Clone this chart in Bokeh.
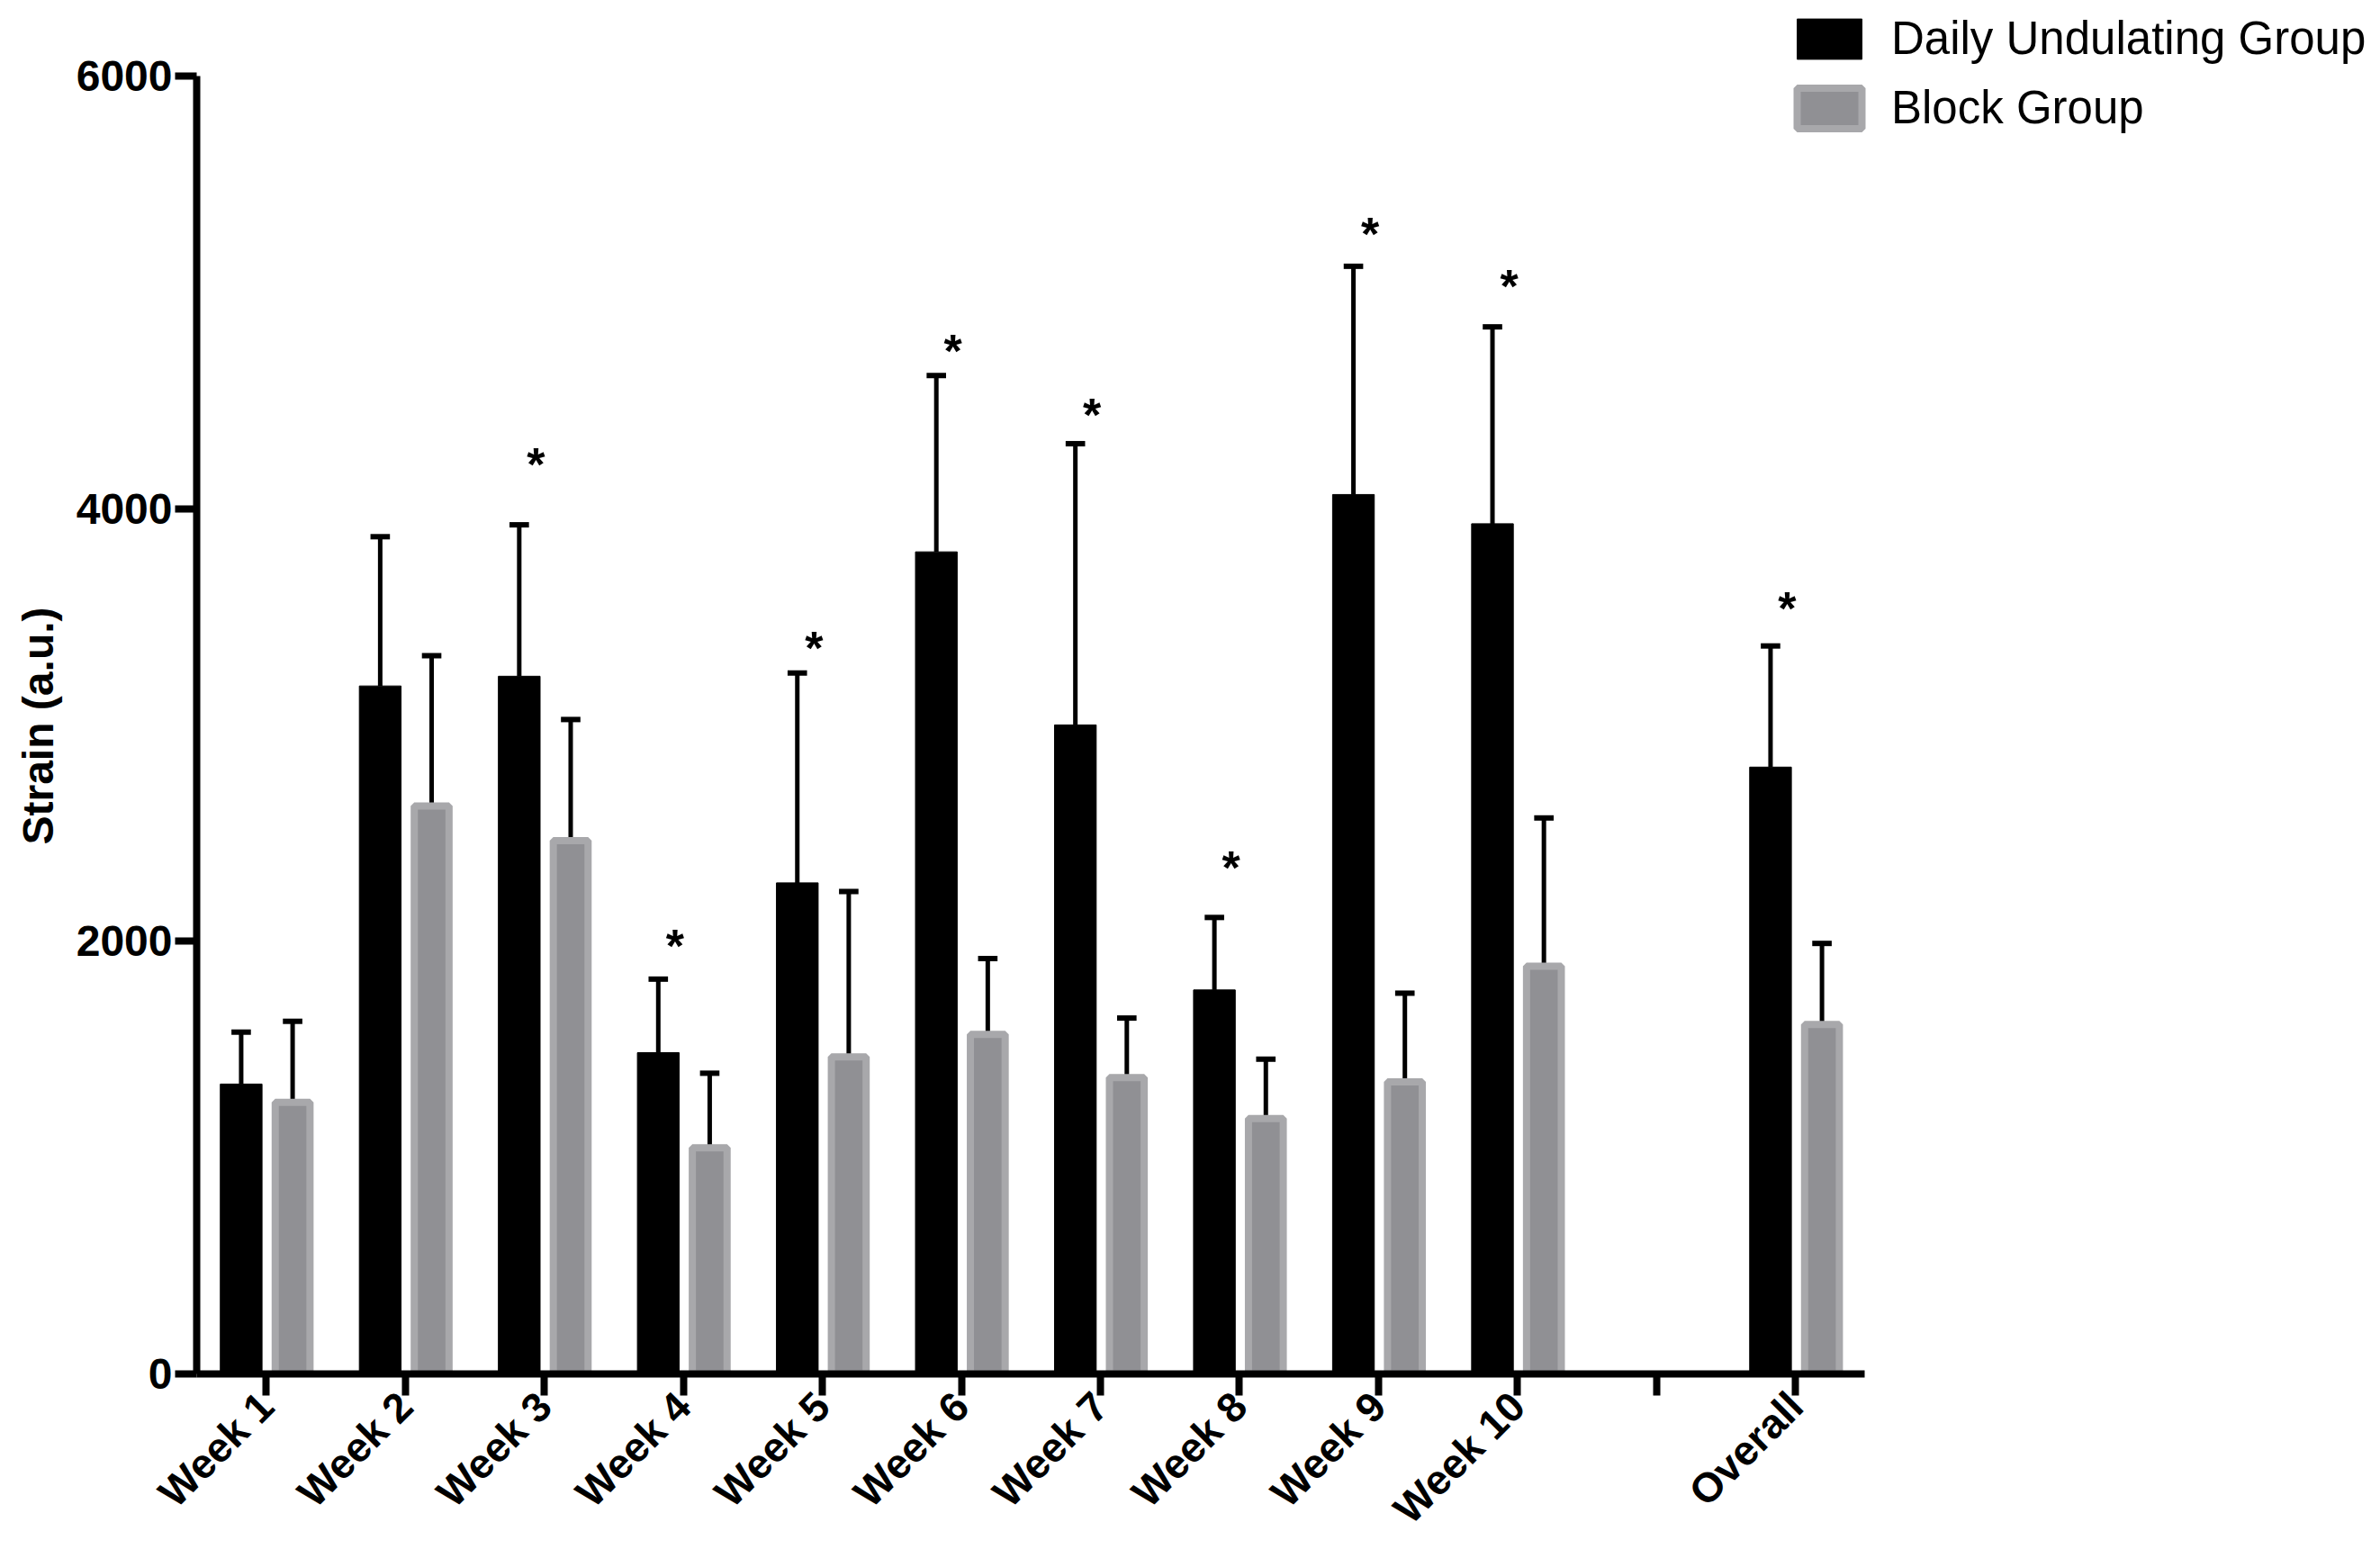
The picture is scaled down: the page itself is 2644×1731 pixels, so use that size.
from bokeh.plotting import figure
from bokeh.models import Range1d, FixedTicker, ColumnDataSource, Legend, LegendItem, Title
from bokeh.core.properties import value
from bokeh.embed import file_html
from bokeh.resources import INLINE
import math

# ---------------- data ----------------
categories = ["Week 1", "Week 2", "Week 3", "Week 4", "Week 5", "Week 6",
              "Week 7", "Week 8", "Week 9", "Week 10", "", "Overall"]
groups = ["Week 1", "Week 2", "Week 3", "Week 4", "Week 5", "Week 6",
          "Week 7", "Week 8", "Week 9", "Week 10", "Overall"]
dug_mean = [1340, 3180, 3225, 1485, 2270, 3800, 3000, 1775, 4065, 3930, 2805]
dug_sd = [240, 690, 700, 340, 970, 815, 1300, 335, 1055, 910, 560]
block_mean = [1255, 2625, 2465, 1045, 1465, 1570, 1370, 1180, 1350, 1885, 1615]
block_sd = [375, 695, 560, 345, 765, 350, 275, 275, 410, 685, 375]
sig_groups = ["Week 3", "Week 4", "Week 5", "Week 6", "Week 7", "Week 8",
              "Week 9", "Week 10", "Overall"]
sig_marker_y = [4245, 2020, 3395, 4770, 4475, 2380, 5310, 5070, 3580]
y_ticks = [0, 2000, 4000, 6000]
y_max = 6000
y_label = "Strain (a.u.)"
series_names = ["Daily Undulating Group", "Block Group"]

# ---------------- layout (pixels) ----------------
W, H = 2628, 1723
FRAME_LEFT, AXIS_RIGHT = 216, 2071     # where the drawn axes start / end
AXIS_TOP, FRAME_BOTTOM = 84, 1529
n_slots = len(categories)
slot_px = (AXIS_RIGHT - FRAME_LEFT) / n_slots
x_end = n_slots - 0.5 + (W - AXIS_RIGHT) / slot_px
y_end = y_max * FRAME_BOTTOM / (FRAME_BOTTOM - AXIS_TOP)

FONT = "Liberation Sans"
p = figure(x_range=Range1d(-0.5, x_end), y_range=Range1d(0, y_end),
           width=W, height=H,
           output_backend="svg", toolbar_location=None,
           min_border_left=FRAME_LEFT, min_border_top=0,
           min_border_right=0, min_border_bottom=H - FRAME_BOTTOM)
p.outline_line_color = None
p.xgrid.grid_line_color = None
p.ygrid.grid_line_color = None
p.background_fill_color = "white"
p.border_fill_color = "white"

xpos = [categories.index(g) for g in groups]
BLACK_OFF = -0.18
GREY_OFF = 0.19
CAP = 0.07

src = ColumnDataSource(dict(
    xb=[x + BLACK_OFF for x in xpos],
    xg=[x + GREY_OFF for x in xpos],
    xb0=[x + BLACK_OFF - CAP for x in xpos],
    xb1=[x + BLACK_OFF + CAP for x in xpos],
    xg0=[x + GREY_OFF - CAP for x in xpos],
    xg1=[x + GREY_OFF + CAP for x in xpos],
    dug=dug_mean,
    dug_top=[m + s for m, s in zip(dug_mean, dug_sd)],
    block=block_mean,
    block_top=[m + s for m, s in zip(block_mean, block_sd)],
))

# error bars (upper only)
p.segment(x0="xb", y0="dug", x1="xb", y1="dug_top", source=src,
          line_color="black", line_width=5)
p.segment(x0="xb0", y0="dug_top", x1="xb1", y1="dug_top", source=src,
          line_color="black", line_width=6)
p.segment(x0="xg", y0="block", x1="xg", y1="block_top", source=src,
          line_color="black", line_width=5)
p.segment(x0="xg0", y0="block_top", x1="xg1", y1="block_top", source=src,
          line_color="black", line_width=6)

r_dug = p.vbar(x="xb", top="dug", bottom=0, width=0.3, source=src,
               fill_color="black", line_color="black", line_width=1)
r_block = p.vbar(x="xg", top="block", bottom=0, width=0.25, source=src,
                 fill_color="#909094", line_color="#a8a8ab", line_width=8)

# significance markers
sig_src = ColumnDataSource(dict(
    x=[categories.index(g) - 0.06 for g in sig_groups], y=sig_marker_y))
p.text(x="x", y="y", text=value("*"), source=sig_src,
       text_font=value(FONT), text_font_style="bold",
       text_font_size="52px", text_align="center", text_baseline="alphabetic",
       y_offset=10, text_color="black")

# ---------------- axes ----------------
for ax in (p.xaxis[0], p.yaxis[0]):
    ax.axis_line_width = 8
    ax.axis_line_color = "black"
    ax.major_tick_line_width = 8
    ax.major_tick_line_color = "black"
    ax.major_tick_out = 24
    ax.major_tick_in = 0
    ax.minor_tick_out = 0
    ax.minor_tick_in = 0
    ax.major_label_text_font = FONT
    ax.major_label_text_font_style = "bold"
    ax.major_label_text_color = "black"

p.yaxis.ticker = FixedTicker(ticks=y_ticks, minor_ticks=[])
p.yaxis.bounds = (0, y_max)
p.yaxis.major_label_text_font_size = "48px"
p.yaxis.major_label_standoff = 3

# y-axis title placed alongside the drawn axis (not the whole frame)
ytitle = Title(text=y_label, align="left", offset=588, standoff=26,
               text_font=FONT, text_font_style="bold", text_font_size="48px",
               text_color="black")
p.add_layout(ytitle, "left")

p.xaxis.ticker = FixedTicker(ticks=list(range(n_slots)), minor_ticks=[])
p.xaxis.bounds = (-0.5, n_slots - 0.5)
p.xaxis.major_label_overrides = {i: c for i, c in enumerate(categories)}
p.xaxis.major_label_orientation = math.pi / 4
p.xaxis.major_label_text_font_size = "46px"
p.xaxis.major_label_standoff = 4

# ---------------- legend ----------------
legend = Legend(items=[LegendItem(label=series_names[0], renderers=[r_dug]),
                       LegendItem(label=series_names[1], renderers=[r_block])],
                location=(1769, 1377))
legend.glyph_width = 90
legend.glyph_height = 56
legend.label_text_font = FONT
legend.label_text_font_size = "51px"
legend.label_text_color = "black"
legend.label_standoff = 24
legend.spacing = 18
legend.padding = 0
legend.margin = 0
legend.border_line_color = None
legend.background_fill_alpha = 0
p.add_layout(legend)

open("out.html", "w").write(file_html(p, INLINE))
